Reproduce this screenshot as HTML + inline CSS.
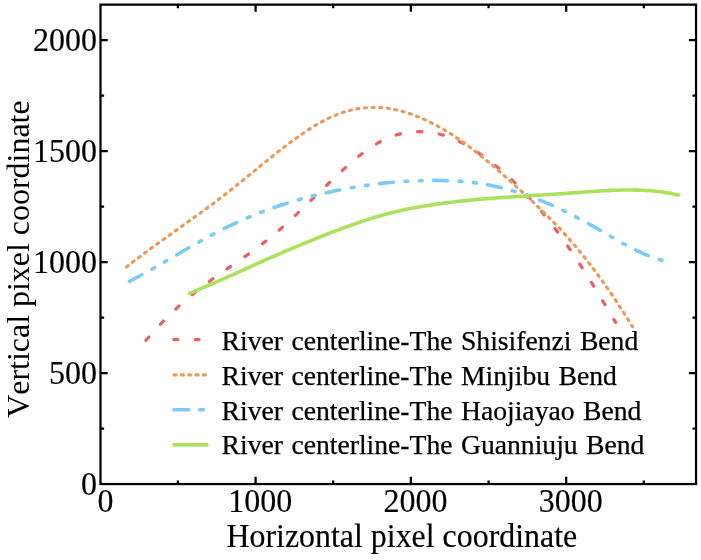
<!DOCTYPE html>
<html><head><meta charset="utf-8"><title>River centerlines</title>
<style>
html,body{margin:0;padding:0;background:#fff}
svg{display:block;font-family:"Liberation Serif",serif;fill:#000}
.ax{font-size:32px}
.lg{font-size:27.65px;word-spacing:1.5px}
.ax,.lg{stroke:#000;stroke-width:0.15px}
.lg{stroke-width:0.25px}
.c{fill:none;stroke-linecap:round;stroke-linejoin:round}
</style></head><body>
<svg width="701" height="560" viewBox="0 0 701 560">
<rect width="701" height="560" fill="#fff"/>
<g class="c">
<path transform="translate(0,0.5)" d="M145.9,339.9 L148.0,337.5 L150.0,335.1 L152.2,332.7 L154.3,330.3 L156.4,327.9 L158.6,325.6 L160.8,323.3 L163.0,321.0 L165.2,318.7 L167.4,316.5 L169.7,314.3 L172.0,312.1 L174.3,309.9 L176.6,307.8 L178.9,305.6 L181.3,303.5 L183.7,301.4 L186.1,299.4 L188.5,297.3 L190.9,295.3 L193.3,293.3 L195.8,291.3 L198.3,289.3 L200.8,287.3 L203.3,285.4 L205.8,283.5 L208.4,281.6 L211.0,279.7 L213.5,277.8 L216.1,276.0 L218.8,274.1 L221.4,272.3 L224.0,270.5 L226.6,268.6 L229.3,266.8 L231.9,265.0 L234.6,263.2 L237.2,261.4 L239.9,259.6 L242.5,257.7 L245.1,255.9 L247.7,254.1 L250.3,252.2 L252.9,250.4 L255.5,248.5 L258.1,246.6 L260.6,244.7 L263.1,242.8 L265.6,240.8 L268.1,238.8 L270.6,236.9 L273.0,234.8 L275.4,232.8 L277.8,230.8 L280.2,228.7 L282.5,226.6 L284.9,224.5 L287.2,222.4 L289.5,220.3 L291.9,218.2 L294.2,216.0 L296.5,213.8 L298.7,211.7 L301.0,209.5 L303.3,207.3 L305.6,205.1 L307.8,202.9 L310.1,200.7 L312.4,198.5 L314.7,196.3 L316.9,194.1 L319.2,191.9 L321.5,189.7 L323.8,187.4 L326.1,185.2 L328.4,183.0 L330.7,180.8 L333.0,178.6 L335.4,176.4 L337.7,174.2 L340.1,172.0 L342.5,169.8 L344.9,167.6 L347.3,165.5 L349.7,163.3 L352.2,161.2 L354.6,159.1 L357.1,157.1 L359.7,155.0 L362.2,153.1 L364.8,151.1 L367.4,149.3 L370.0,147.4 L372.7,145.7 L375.4,144.0 L378.1,142.4 L380.9,140.9 L383.6,139.5 L386.5,138.2 L389.3,137.0 L392.2,135.8 L395.2,134.8 L398.1,133.9 L401.2,133.2 L404.2,132.5 L407.3,132.0 L410.4,131.6 L413.6,131.3 L416.7,131.2 L419.9,131.1 L423.0,131.2 L426.2,131.4 L429.4,131.8 L432.5,132.2 L435.6,132.8 L438.7,133.4 L441.8,134.2 L444.9,135.1 L447.9,136.2 L450.8,137.3 L453.8,138.5 L456.7,139.8 L459.6,141.2 L462.4,142.7 L465.2,144.2 L468.0,145.8 L470.8,147.5 L473.5,149.2 L476.2,150.9 L478.9,152.7 L481.5,154.6 L484.1,156.4 L486.7,158.3 L489.3,160.2 L491.8,162.2 L494.3,164.2 L496.8,166.2 L499.3,168.2 L501.7,170.3 L504.1,172.3 L506.5,174.4 L508.8,176.6 L511.2,178.7 L513.5,180.9 L515.8,183.1 L518.0,185.3 L520.3,187.6 L522.5,189.8 L524.7,192.1 L526.9,194.4 L529.0,196.7 L531.1,199.1 L533.3,201.4 L535.4,203.8 L537.4,206.2 L539.5,208.6 L541.5,211.1 L543.5,213.5 L545.5,216.0 L547.5,218.4 L549.5,220.9 L551.4,223.4 L553.4,225.9 L555.3,228.5 L557.2,231.0 L559.1,233.6 L561.0,236.1 L562.8,238.7 L564.7,241.3 L566.5,243.9 L568.3,246.5 L570.1,249.1 L571.9,251.8 L573.7,254.4 L575.5,257.0 L577.2,259.7 L579.0,262.4 L580.7,265.0 L582.4,267.7 L584.2,270.4 L585.9,273.1 L587.6,275.8 L589.3,278.5 L591.0,281.2 L592.6,283.9 L594.3,286.6 L596.0,289.3 L597.6,292.0 L599.3,294.7 L600.9,297.4 L602.6,300.2 L604.2,302.9 L605.8,305.6 L607.5,308.3 L609.1,311.1 L610.7,313.8 L612.3,316.5 L613.9,319.2 L615.6,321.9" stroke="#ec6064" stroke-width="3.2" stroke-dasharray="4.4 17.3"/>
<path transform="translate(0,0.5)" d="M126.5,266.5 L129.0,264.5 L131.6,262.5 L134.1,260.5 L136.7,258.6 L139.3,256.6 L141.9,254.7 L144.5,252.7 L147.1,250.8 L149.7,248.8 L152.3,246.9 L155.0,245.0 L157.6,243.1 L160.3,241.2 L162.9,239.3 L165.6,237.4 L168.2,235.5 L170.9,233.6 L173.5,231.7 L176.2,229.8 L178.8,227.9 L181.5,226.0 L184.2,224.1 L186.8,222.2 L189.5,220.3 L192.1,218.4 L194.8,216.5 L197.4,214.6 L200.1,212.7 L202.7,210.8 L205.3,208.9 L207.9,206.9 L210.5,205.0 L213.2,203.1 L215.7,201.1 L218.3,199.1 L220.9,197.2 L223.5,195.2 L226.0,193.2 L228.6,191.2 L231.1,189.2 L233.7,187.2 L236.2,185.2 L238.7,183.1 L241.2,181.1 L243.7,179.1 L246.3,177.0 L248.8,175.0 L251.3,172.9 L253.8,170.9 L256.3,168.8 L258.8,166.8 L261.3,164.7 L263.9,162.7 L266.4,160.7 L268.9,158.6 L271.5,156.6 L274.0,154.5 L276.6,152.5 L279.1,150.5 L281.7,148.5 L284.3,146.5 L286.9,144.5 L289.5,142.5 L292.2,140.6 L294.8,138.6 L297.5,136.7 L300.2,134.8 L302.9,132.9 L305.7,131.0 L308.4,129.2 L311.2,127.4 L314.0,125.7 L316.9,124.0 L319.7,122.4 L322.6,120.8 L325.5,119.3 L328.4,117.8 L331.4,116.5 L334.4,115.2 L337.3,113.9 L340.4,112.8 L343.4,111.8 L346.5,110.8 L349.6,110.0 L352.7,109.2 L355.8,108.6 L359.0,108.0 L362.2,107.6 L365.4,107.3 L368.6,107.1 L371.8,106.9 L375.0,106.9 L378.2,107.0 L381.5,107.2 L384.7,107.5 L387.9,107.8 L391.1,108.3 L394.3,108.9 L397.4,109.6 L400.6,110.4 L403.7,111.2 L406.9,112.2 L410.0,113.2 L413.0,114.3 L416.1,115.5 L419.1,116.7 L422.1,118.0 L425.1,119.3 L428.0,120.7 L431.0,122.1 L433.9,123.6 L436.7,125.1 L439.6,126.7 L442.4,128.3 L445.2,130.0 L448.0,131.7 L450.8,133.4 L453.5,135.1 L456.2,136.9 L458.9,138.8 L461.6,140.6 L464.2,142.5 L466.9,144.4 L469.5,146.4 L472.1,148.4 L474.7,150.4 L477.3,152.4 L479.8,154.4 L482.4,156.5 L484.9,158.6 L487.4,160.7 L490.0,162.8 L492.5,164.9 L494.9,167.0 L497.4,169.2 L499.9,171.3 L502.3,173.5 L504.8,175.7 L507.2,177.9 L509.7,180.0 L512.1,182.2 L514.5,184.4 L516.9,186.6 L519.3,188.8 L521.7,191.0 L524.1,193.2 L526.5,195.4 L528.9,197.6 L531.2,199.8 L533.6,202.0 L536.0,204.3 L538.3,206.5 L540.6,208.7 L542.9,211.0 L545.2,213.3 L547.5,215.5 L549.8,217.8 L552.1,220.1 L554.3,222.5 L556.6,224.8 L558.8,227.1 L561.0,229.5 L563.2,231.9 L565.4,234.3 L567.6,236.7 L569.7,239.1 L571.8,241.6 L574.0,244.1 L576.1,246.5 L578.1,249.1 L580.2,251.6 L582.3,254.1 L584.3,256.6 L586.3,259.2 L588.4,261.8 L590.4,264.4 L592.3,267.0 L594.3,269.6 L596.3,272.2 L598.2,274.8 L600.1,277.5 L602.0,280.1 L603.9,282.8 L605.8,285.5 L607.7,288.1 L609.6,290.8 L611.4,293.5 L613.2,296.2 L615.0,298.9 L616.8,301.6 L618.6,304.3 L620.4,307.1 L622.2,309.8 L623.9,312.5 L625.7,315.3 L627.4,318.0 L629.1,320.7 L630.8,323.5 L632.5,326.2" stroke="#e99b5c" stroke-width="3.2" stroke-dasharray="2.0 5.6"/>
<path transform="translate(0,0.5)" d="M129.5,280.8 L132.1,279.5 L134.6,278.2 L137.1,276.8 L139.6,275.5 L142.1,274.1 L144.6,272.7 L147.1,271.3 L149.6,269.9 L152.1,268.5 L154.6,267.1 L157.1,265.7 L159.6,264.2 L162.1,262.8 L164.6,261.4 L167.1,259.9 L169.6,258.5 L172.1,257.0 L174.5,255.6 L177.0,254.1 L179.5,252.7 L182.0,251.2 L184.5,249.8 L187.0,248.3 L189.5,246.9 L192.0,245.4 L194.5,244.0 L197.0,242.6 L199.5,241.2 L202.1,239.7 L204.6,238.3 L207.1,237.0 L209.6,235.6 L212.2,234.2 L214.7,232.9 L217.2,231.5 L219.8,230.2 L222.4,228.9 L224.9,227.6 L227.5,226.3 L230.1,225.1 L232.7,223.9 L235.3,222.6 L237.9,221.5 L240.5,220.3 L243.1,219.1 L245.7,218.0 L248.4,216.9 L251.0,215.8 L253.6,214.7 L256.3,213.6 L259.0,212.6 L261.6,211.5 L264.3,210.5 L267.0,209.5 L269.7,208.6 L272.4,207.6 L275.1,206.7 L277.8,205.7 L280.5,204.8 L283.2,204.0 L285.9,203.1 L288.6,202.2 L291.4,201.4 L294.1,200.6 L296.9,199.8 L299.6,199.0 L302.4,198.2 L305.1,197.5 L307.9,196.7 L310.7,196.0 L313.5,195.3 L316.2,194.6 L319.0,193.9 L321.8,193.3 L324.6,192.6 L327.4,192.0 L330.2,191.4 L333.0,190.8 L335.8,190.2 L338.7,189.6 L341.5,189.1 L344.3,188.5 L347.1,188.0 L350.0,187.5 L352.8,187.0 L355.6,186.5 L358.5,186.1 L361.3,185.6 L364.2,185.2 L367.0,184.8 L369.9,184.4 L372.7,184.0 L375.6,183.6 L378.4,183.3 L381.3,182.9 L384.2,182.6 L387.0,182.3 L389.9,182.0 L392.8,181.8 L395.7,181.5 L398.5,181.3 L401.4,181.1 L404.3,180.9 L407.2,180.7 L410.0,180.6 L412.9,180.4 L415.8,180.3 L418.7,180.2 L421.6,180.1 L424.4,180.0 L427.3,180.0 L430.2,179.9 L433.1,179.9 L436.0,179.9 L438.9,180.0 L441.7,180.0 L444.6,180.1 L447.5,180.2 L450.4,180.3 L453.3,180.4 L456.1,180.6 L459.0,180.7 L461.9,180.9 L464.7,181.2 L467.6,181.4 L470.4,181.7 L473.3,182.1 L476.1,182.4 L478.9,182.8 L481.8,183.3 L484.6,183.8 L487.4,184.3 L490.2,184.8 L493.0,185.4 L495.8,186.0 L498.6,186.6 L501.3,187.3 L504.1,188.0 L506.9,188.7 L509.6,189.4 L512.4,190.2 L515.1,191.0 L517.8,191.9 L520.5,192.7 L523.3,193.6 L526.0,194.5 L528.7,195.5 L531.4,196.5 L534.0,197.5 L536.7,198.5 L539.4,199.5 L542.0,200.6 L544.7,201.7 L547.3,202.8 L550.0,203.9 L552.6,205.1 L555.2,206.3 L557.8,207.4 L560.5,208.7 L563.1,209.9 L565.6,211.1 L568.2,212.4 L570.8,213.7 L573.4,215.0 L575.9,216.3 L578.5,217.7 L581.0,219.0 L583.6,220.4 L586.1,221.8 L588.6,223.2 L591.1,224.6 L593.6,226.0 L596.1,227.4 L598.6,228.9 L601.1,230.3 L603.6,231.8 L606.1,233.2 L608.6,234.7 L611.0,236.1 L613.5,237.6 L616.0,239.0 L618.5,240.4 L621.0,241.8 L623.5,243.2 L626.0,244.6 L628.5,245.9 L631.1,247.3 L633.6,248.5 L636.2,249.8 L638.8,251.0 L641.4,252.2 L644.0,253.4 L646.6,254.5 L649.3,255.5 L652.0,256.6 L654.7,257.5 L657.4,258.4 L660.2,259.3 L662.9,260.1" stroke="#7ccaf6" stroke-width="3.6" stroke-dasharray="13.9 11.6 2.8 11.6 2.8 11.5"/>
<path d="M189.7,293.2 L192.1,292.3 L194.4,291.3 L196.8,290.4 L199.1,289.4 L201.5,288.4 L203.8,287.4 L206.2,286.4 L208.5,285.4 L210.8,284.4 L213.2,283.4 L215.5,282.4 L217.8,281.4 L220.2,280.3 L222.5,279.3 L224.8,278.3 L227.1,277.2 L229.5,276.2 L231.8,275.1 L234.1,274.1 L236.4,273.0 L238.7,272.0 L241.0,270.9 L243.4,269.9 L245.7,268.8 L248.0,267.8 L250.3,266.7 L252.6,265.7 L254.9,264.6 L257.3,263.6 L259.6,262.5 L261.9,261.5 L264.2,260.5 L266.5,259.4 L268.9,258.4 L271.2,257.4 L273.5,256.4 L275.9,255.3 L278.2,254.3 L280.5,253.3 L282.9,252.3 L285.2,251.3 L287.6,250.3 L289.9,249.3 L292.2,248.3 L294.6,247.3 L296.9,246.4 L299.3,245.4 L301.6,244.4 L304.0,243.4 L306.4,242.5 L308.7,241.5 L311.1,240.6 L313.4,239.6 L315.8,238.7 L318.2,237.7 L320.5,236.8 L322.9,235.8 L325.3,234.9 L327.7,234.0 L330.0,233.1 L332.4,232.1 L334.8,231.2 L337.2,230.3 L339.6,229.4 L341.9,228.5 L344.3,227.6 L346.7,226.8 L349.1,225.9 L351.5,225.0 L353.9,224.2 L356.3,223.4 L358.7,222.5 L361.1,221.7 L363.6,220.9 L366.0,220.1 L368.4,219.3 L370.8,218.6 L373.3,217.8 L375.7,217.1 L378.1,216.4 L380.6,215.7 L383.0,215.0 L385.5,214.3 L387.9,213.7 L390.4,213.0 L392.8,212.4 L395.3,211.8 L397.8,211.2 L400.3,210.7 L402.7,210.1 L405.2,209.6 L407.7,209.1 L410.2,208.6 L412.7,208.1 L415.2,207.6 L417.7,207.2 L420.2,206.7 L422.7,206.3 L425.2,205.9 L427.7,205.5 L430.2,205.1 L432.8,204.7 L435.3,204.3 L437.8,203.9 L440.3,203.6 L442.8,203.3 L445.4,202.9 L447.9,202.6 L450.4,202.3 L452.9,202.0 L455.5,201.7 L458.0,201.4 L460.5,201.1 L463.0,200.9 L465.6,200.6 L468.1,200.4 L470.6,200.1 L473.2,199.9 L475.7,199.6 L478.2,199.4 L480.8,199.2 L483.3,199.0 L485.8,198.8 L488.4,198.6 L490.9,198.4 L493.5,198.2 L496.0,198.0 L498.5,197.8 L501.1,197.6 L503.6,197.4 L506.2,197.2 L508.7,197.1 L511.2,196.9 L513.8,196.7 L516.3,196.6 L518.9,196.4 L521.4,196.2 L523.9,196.1 L526.5,195.9 L529.0,195.8 L531.6,195.6 L534.1,195.4 L536.7,195.3 L539.2,195.1 L541.8,195.0 L544.3,194.8 L546.8,194.6 L549.4,194.5 L551.9,194.3 L554.5,194.2 L557.0,194.0 L559.6,193.8 L562.1,193.7 L564.6,193.5 L567.2,193.3 L569.7,193.1 L572.3,192.9 L574.8,192.8 L577.4,192.6 L579.9,192.4 L582.4,192.2 L585.0,192.0 L587.5,191.8 L590.1,191.6 L592.6,191.5 L595.2,191.3 L597.7,191.1 L600.2,191.0 L602.8,190.8 L605.3,190.7 L607.9,190.6 L610.4,190.4 L612.9,190.3 L615.5,190.2 L618.0,190.2 L620.5,190.1 L623.1,190.0 L625.6,190.0 L628.1,190.0 L630.7,190.0 L633.2,190.0 L635.7,190.1 L638.3,190.1 L640.8,190.2 L643.3,190.3 L645.9,190.5 L648.4,190.6 L650.9,190.8 L653.5,191.0 L656.0,191.3 L658.5,191.5 L661.0,191.8 L663.6,192.2 L666.1,192.6 L668.6,193.0 L671.1,193.4 L673.7,193.9 L676.2,194.4 L678.7,194.9" stroke="#aae25e" stroke-width="3.6"/>
<path d="M173.7,339.6 H177.9 M195.2,339.6 H199.1" stroke="#ec6064" stroke-width="3.2"/>
<path d="M174.0,374.9 h2.1 m5.24,0 h2.1 m5.24,0 h2.1 m5.24,0 h2.1 m5.24,0 h2.1" stroke="#e99b5c" stroke-width="3.2"/>
<path d="M173.9,409.8 H188.9 M199.6,409.8 H203.4" stroke="#7ccaf6" stroke-width="3.6"/>
<path d="M174.1,444.9 H206.9" stroke="#aae25e" stroke-width="3.6"/>
</g>
<g fill="none" stroke="#000" stroke-width="2.25">
<rect x="100.5" y="4.65" width="595.55" height="479.40"/>
<path d="M177.9,484.05 v-3.6 M177.9,4.65 v3.6"/>
<path d="M255.6,484.05 v-7.2 M255.6,4.65 v7.2"/>
<path d="M333.2,484.05 v-3.6 M333.2,4.65 v3.6"/>
<path d="M410.9,484.05 v-7.2 M410.9,4.65 v7.2"/>
<path d="M488.6,484.05 v-3.6 M488.6,4.65 v3.6"/>
<path d="M566.2,484.05 v-7.2 M566.2,4.65 v7.2"/>
<path d="M643.8,484.05 v-3.6 M643.8,4.65 v3.6"/>
<path d="M100.5,428.6 h3.6 M696.05,428.6 h-3.6"/>
<path d="M100.5,373.1 h7.2 M696.05,373.1 h-7.2"/>
<path d="M100.5,317.6 h3.6 M696.05,317.6 h-3.6"/>
<path d="M100.5,262.1 h7.2 M696.05,262.1 h-7.2"/>
<path d="M100.5,206.6 h3.6 M696.05,206.6 h-3.6"/>
<path d="M100.5,151.1 h7.2 M696.05,151.1 h-7.2"/>
<path d="M100.5,95.6 h3.6 M696.05,95.6 h-3.6"/>
<path d="M100.5,40.1 h7.2 M696.05,40.1 h-7.2"/>
</g>
<g class="ax">
<text transform="translate(105.5,512) scale(1,1.035)" text-anchor="middle">0</text>
<text transform="translate(260.2,512) scale(1,1.035)" text-anchor="middle">1000</text>
<text transform="translate(415.5,512) scale(1,1.035)" text-anchor="middle">2000</text>
<text transform="translate(570.8,512) scale(1,1.035)" text-anchor="middle">3000</text>
<text transform="translate(97,495.2) scale(1,1.025)" text-anchor="end">0</text>
<text transform="translate(97,384.2) scale(1,1.025)" text-anchor="end">500</text>
<text transform="translate(97,273.2) scale(1,1.025)" text-anchor="end">1000</text>
<text transform="translate(97,162.2) scale(1,1.025)" text-anchor="end">1500</text>
<text transform="translate(97,51.2) scale(1,1.025)" text-anchor="end">2000</text>
<text transform="translate(226.5,547) scale(1,1.035)" style="font-size:31.9px">Horizontal pixel coordinate</text>
<g transform="translate(28.5,417.8) rotate(-90)" style="font-size:31.95px;stroke:none;font-kerning:none">
<text x="0" y="0">Vertical pixel coordinate</text>
</g>
</g>
<g class="lg">
<text x="221.6" y="349.6">River centerline-The Shisifenzi Bend</text>
<text x="221.6" y="384.5">River centerline-The Minjibu Bend</text>
<text x="221.6" y="419.5">River centerline-The Haojiayao Bend</text>
<text x="221.6" y="454">River centerline-The Guanniuju Bend</text>
</g>
</svg>
</body></html>
